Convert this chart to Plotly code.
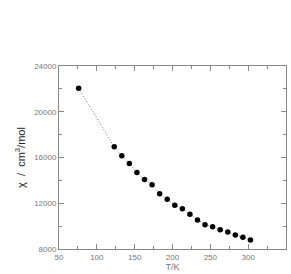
import plotly.graph_objects as go

T = [76, 123, 133, 143, 153, 163, 173, 183, 193, 203, 213, 223, 233, 243, 253, 263, 273, 283, 293, 303]
chi = [22050, 16940, 16150, 15480, 14690, 14075, 13610, 12820, 12360, 11830, 11510,
       11040, 10540, 10130, 9955, 9690, 9490, 9230, 9025, 8790]

x_ticks = [50, 100, 150, 200, 250, 300, 350]
y_ticks = [8000, 12000, 16000, 20000, 24000]

axis_color = "#888888"
tick_font = dict(family="Liberation Sans, Arial, sans-serif", size=8, color="#777777")

fig = go.Figure()
fig.add_trace(go.Scatter(
    x=T, y=chi, mode="lines+markers",
    line=dict(color="#777777", width=1, dash="1px,2px"),
    marker=dict(color="black", size=5.5),
    showlegend=False,
))

fig.update_layout(
    width=291, height=274,
    margin=dict(l=59, r=5, t=66, b=25),
    paper_bgcolor="white", plot_bgcolor="white",
    xaxis=dict(
        range=[50, 350], tickvals=x_ticks, ticktext=[str(v) for v in x_ticks],
        ticks="inside", ticklen=5, tickcolor=axis_color, tickwidth=1,
        showline=True, linecolor=axis_color, linewidth=1, mirror="allticks",
        showgrid=False, zeroline=False, tickfont=tick_font,
        minor=dict(tickvals=[75, 125, 175, 225, 275, 325], ticks="inside", ticklen=3,
                   tickcolor=axis_color, showgrid=False),
        title=dict(text="T/K", font=dict(family="Liberation Sans, Arial, sans-serif", size=9, color="#777777"), standoff=2),
    ),
    yaxis=dict(
        range=[8000, 24000], tickvals=y_ticks, ticktext=[str(v) for v in y_ticks],
        ticks="inside", ticklen=5, tickcolor=axis_color, tickwidth=1,
        showline=True, linecolor=axis_color, linewidth=1, mirror="allticks",
        showgrid=False, zeroline=False, tickfont=tick_font,
        minor=dict(tickvals=[10000, 14000, 18000, 22000], ticks="inside", ticklen=3,
                   tickcolor=axis_color, showgrid=False),
        title=dict(text="χ  /  cm<sup>3</sup>/mol", font=dict(family="Liberation Sans, Arial, sans-serif", size=11, color="#222222"), standoff=6),
    ),
)

fig.write_html("out.html")
